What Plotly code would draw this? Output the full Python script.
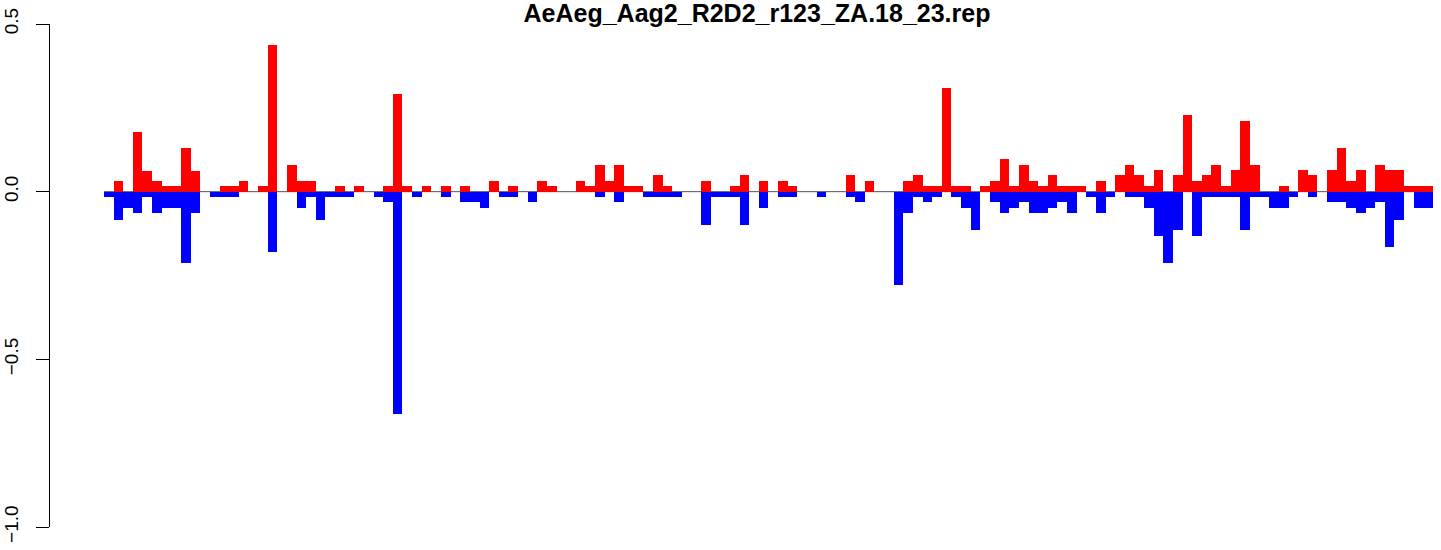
import plotly.graph_objects as go

title_text = "AeAeg_Aag2_R2D2_r123_ZA.18_23.rep"

# positive (red) values for each of the 138 bins
up_vals = [
    0, 0.032, 0, 0.177, 0.063, 0.032, 0.016, 0.016, 0.129, 0.063,
    0, 0, 0.016, 0.016, 0.032, 0, 0.016, 0.438, 0, 0.081,
    0.032, 0.032, 0, 0, 0.016, 0, 0.016, 0, 0, 0.016,
    0.291, 0.016, 0, 0.016, 0, 0.016, 0, 0.016, 0, 0,
    0.032, 0, 0.016, 0, 0, 0.032, 0.016, 0, 0, 0.032,
    0.016, 0.081, 0.032, 0.081, 0.016, 0.016, 0, 0.049, 0.016, 0,
    0, 0, 0.032, 0, 0, 0.016, 0.049, 0, 0.032, 0,
    0.032, 0.016, 0, 0, 0, 0, 0, 0.049, 0, 0.032,
    0, 0, 0, 0.032, 0.049, 0.016, 0.016, 0.310, 0.016, 0.016,
    0, 0.016, 0.032, 0.097, 0.016, 0.081, 0.032, 0.016, 0.049, 0.016,
    0.016, 0.016, 0, 0.032, 0, 0.049, 0.081, 0.049, 0.016, 0.065,
    0, 0.049, 0.228, 0.032, 0.049, 0.081, 0.016, 0.065, 0.210, 0.081,
    0, 0, 0.016, 0, 0.065, 0.049, 0, 0.065, 0.129, 0.032,
    0.065, 0, 0.081, 0.065, 0.065, 0.016, 0.016, 0.016,
]

# negative (blue) values for each bin
down_vals = [
    -0.016, -0.083, -0.049, -0.065, -0.016, -0.065, -0.049, -0.049, -0.212, -0.065,
    0, -0.016, -0.016, -0.016, 0, 0, 0, -0.179, 0, 0,
    -0.049, -0.016, -0.083, -0.016, -0.016, -0.016, 0, 0, -0.016, -0.032,
    -0.664, 0, -0.016, 0, 0, -0.016, 0, -0.032, -0.032, -0.049,
    0, -0.016, -0.016, 0, -0.032, 0, 0, 0, 0, 0,
    0, -0.016, 0, -0.032, 0, 0, -0.016, -0.016, -0.016, -0.016,
    0, 0, -0.098, -0.016, -0.016, -0.016, -0.098, 0, -0.049, 0,
    -0.016, -0.016, 0, 0, -0.016, 0, 0, -0.016, -0.032, 0,
    0, 0, -0.277, -0.065, -0.016, -0.032, -0.016, 0, -0.016, -0.049,
    -0.113, 0, -0.032, -0.065, -0.049, -0.032, -0.065, -0.065, -0.049, -0.032,
    -0.065, 0, -0.016, -0.065, -0.016, 0, -0.016, -0.016, -0.049, -0.131,
    -0.212, -0.113, 0, -0.131, -0.016, -0.016, -0.016, -0.016, -0.113, -0.016,
    -0.016, -0.049, -0.049, -0.016, 0, -0.016, 0, -0.032, -0.032, -0.049,
    -0.065, -0.049, -0.032, -0.164, -0.083, 0, -0.049, -0.049,
]

y_tickvals = [-1.0, -0.5, 0.0, 0.5]
y_ticktext = ["\u22121.0", "\u22120.5", "0.0", "0.5"]

positions = list(range(len(up_vals)))

fig = go.Figure()
fig.add_trace(go.Bar(x=positions, y=up_vals, marker=dict(color="#ff0000", line=dict(width=0)),
                     width=1.0, hoverinfo="skip"))
fig.add_trace(go.Bar(x=positions, y=down_vals, marker=dict(color="#0000ff", line=dict(width=0)),
                     width=1.0, hoverinfo="skip"))

fig.add_shape(type="line", xref="x", yref="y", x0=-0.5, x1=len(up_vals) - 0.5, y0=0, y1=0,
              line=dict(color="#555555", width=1), layer="below")

fig.update_layout(
    width=1441, height=550,
    margin=dict(l=50, r=0, t=24, b=23, autoexpand=False),
    plot_bgcolor="white", paper_bgcolor="white",
    barmode="overlay", bargap=0, showlegend=False,
    font=dict(family="Liberation Sans, Arial, sans-serif", color="black"),
    title=dict(text="<b>" + title_text + "</b>", xref="container", x=757 / 1441,
               yref="container", y=1 - 13 / 550, xanchor="center", yanchor="middle",
               font=dict(size=25, family="Liberation Sans, Arial, sans-serif", color="black")),
    xaxis=dict(visible=False, range=[-6.1, 138.33]),
    yaxis=dict(range=[-1.0, 0.5], showgrid=False, zeroline=False, automargin=False,
               showline=True, linecolor="black", linewidth=1,
               ticks="outside", ticklen=13, tickwidth=1, tickcolor="black",
               tickvals=y_tickvals, ticktext=y_ticktext, tickangle=-90,
               tickfont=dict(size=19, color="black"), ticklabelstandoff=10),
)

fig.write_html("out.html", config={"displayModeBar": False, "staticPlot": True},
               post_script="document.body.style.margin='0';document.body.style.padding='0';")
